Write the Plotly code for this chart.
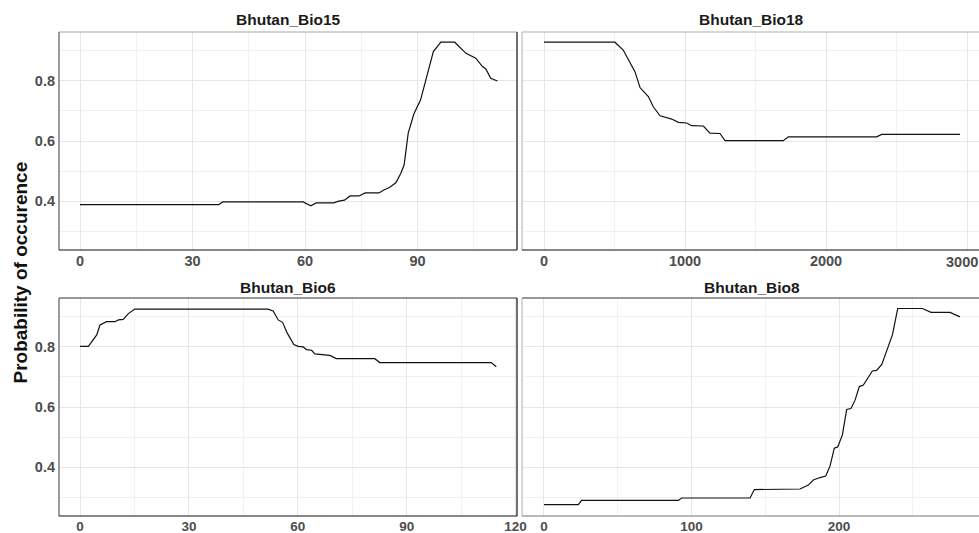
import plotly.graph_objects as go

# ---------------- data ----------------
bio15_x = [0, 37, 38, 59.5, 61.5, 63, 67.6, 69, 70.5, 72, 74.4, 76, 79.7, 81, 82.5, 84.2,
           85.5, 86.4, 87.5, 89, 90.8, 93, 94.2, 96.2, 99.9, 102.9, 105.5, 107.3, 108.2,
           109.5, 111.3]
bio15_y = [0.388, 0.388, 0.397, 0.397, 0.384, 0.394, 0.394, 0.400, 0.403, 0.417, 0.417,
           0.427, 0.427, 0.437, 0.445, 0.461, 0.492, 0.52, 0.626, 0.69, 0.737, 0.837,
           0.898, 0.929, 0.929, 0.892, 0.876, 0.848, 0.84, 0.809, 0.80]

bio18_x = [0, 503, 562, 598, 645, 681, 740, 775, 823, 906, 953, 1012, 1047, 1130, 1177,
           1248, 1284, 1697, 1733, 2359, 2395, 2950]
bio18_y = [0.929, 0.929, 0.903, 0.87, 0.831, 0.778, 0.748, 0.714, 0.684, 0.673, 0.662,
           0.66, 0.651, 0.65, 0.626, 0.625, 0.601, 0.601, 0.614, 0.614, 0.622, 0.622]

bio6_x = [0, 2.3, 4.6, 5.5, 7.3, 9.6, 10.6, 11.9, 13.3, 15.1, 51.8, 53.2, 54.6, 55.8, 57.1,
          58.9, 60.1, 61.5, 62.4, 63.8, 64.7, 67, 68.8, 70.6, 81.2, 82.6, 113.3, 114.7]
bio6_y = [0.802, 0.802, 0.84, 0.873, 0.884, 0.884, 0.89, 0.892, 0.911, 0.926, 0.926, 0.92,
          0.89, 0.882, 0.846, 0.808, 0.802, 0.80, 0.791, 0.789, 0.777, 0.775, 0.772, 0.761,
          0.761, 0.748, 0.748, 0.734]

bio8_x = [0, 23.3, 25.5, 91, 93.3, 139.7, 142.6, 153.2, 154.4, 173.6, 179.2, 182.6, 187.1,
          191, 193.9, 196.8, 199.1, 202.3, 205.2, 208.1, 210.8, 213.8, 216.5, 222.6, 225.5,
          229, 233.4, 236.2, 239.8, 256.5, 262.4, 275.3, 282]
bio8_y = [0.275, 0.275, 0.289, 0.289, 0.297, 0.297, 0.325, 0.325, 0.327, 0.327, 0.34,
          0.357, 0.365, 0.37, 0.403, 0.463, 0.467, 0.507, 0.592, 0.595, 0.622, 0.668,
          0.673, 0.72, 0.722, 0.742, 0.802, 0.84, 0.928, 0.928, 0.915, 0.915, 0.90]

panel_titles = ["Bhutan_Bio15", "Bhutan_Bio18", "Bhutan_Bio6", "Bhutan_Bio8"]
y_title = "Probability of occurence"
y_ticks = [0.4, 0.6, 0.8]
bio18_ticks = [0, 1000, 2000]
bio18_last_tick = "3000"

# ---------------- layout geometry ----------------
W, H = 979, 533
def px_x(p): return p / W
def px_y(p): return 1 - p / H

left_dom = [px_x(59), px_x(517)]
right_dom = [px_x(522), 1.0]
top_dom = [px_y(250), px_y(32)]
bot_dom = [px_y(516), px_y(298)]

series = [(bio15_x, bio15_y), (bio18_x, bio18_y), (bio6_x, bio6_y), (bio8_x, bio8_y)]
xranges = [[-5.6, 116.5], [-156, 3085], [-5.8, 120.4], [-14.9, 294.9]]
xdticks = [30, 1000, 30, 100]
xdoms = [left_dom, right_dom, left_dom, right_dom]
ydoms = [top_dom, top_dom, bot_dom, bot_dom]

fig = go.Figure()
tickfont = dict(family="Liberation Sans", size=14.5, color="#4D4D4D", weight="bold")
tickfont_bottom = dict(family="Liberation Sans", size=13.5, color="#4D4D4D", weight="bold")
grid_major = "#E6E6E6"
grid_minor = "#F1F1F1"

for i, (xs, ys) in enumerate(series):
    n = "" if i == 0 else str(i + 1)
    fig.add_trace(go.Scatter(x=xs, y=ys, mode="lines",
                             line=dict(color="#111111", width=1.2),
                             xaxis="x" + n, yaxis="y" + n, showlegend=False,
                             hoverinfo="skip"))
    xa = dict(
        domain=xdoms[i], anchor="y" + n, range=xranges[i], dtick=xdticks[i], tick0=0,
        showgrid=True, gridcolor=grid_major, gridwidth=1, zeroline=False,
        ticks="", tickfont=(tickfont if i < 2 else tickfont_bottom), showline=False,
        automargin=False,
        minor=dict(dtick=xdticks[i] / 2, tick0=0, showgrid=True, gridcolor=grid_minor,
                   gridwidth=1, ticks=""),
    )
    if i == 1:
        xa["tickvals"] = bio18_ticks + [3000]
        xa["ticktext"] = [str(v) for v in bio18_ticks] + [""]
    fig.layout["xaxis" + n] = xa
    fig.layout["yaxis" + n] = dict(
        domain=ydoms[i], anchor="x" + n, range=[0.237, 0.963], tickvals=y_ticks,
        showgrid=True, gridcolor=grid_major, gridwidth=1, zeroline=False,
        ticks="", tickfont=tickfont, showticklabels=(i % 2 == 0), showline=False,
        automargin=False, ticklabelstandoff=3,
        minor=dict(tickvals=[0.3, 0.5, 0.7, 0.9], showgrid=True, gridcolor=grid_minor,
                   gridwidth=1, ticks=""),
    )

# the last Bio18 tick label sits at the right edge (cut in the reference)
fig.add_annotation(text=bio18_last_tick, x=1.0, xref="paper", y=px_y(262), yref="paper",
                   showarrow=False, xanchor="right", yanchor="middle", font=tickfont,
                   xshift=1)

# panel borders
def seg(x0, y0, x1, y1, color, w=1.2):
    fig.add_shape(type="line", xref="paper", yref="paper", x0=x0, y0=y0, x1=x1, y1=y1,
                  line=dict(color=color, width=w), layer="above")

L0, L1 = left_dom
R0, R1 = right_dom
T0, T1 = top_dom
B0, B1 = bot_dom
# top-left
seg(L0, T1, L1, T1, "#A8A8A8")
seg(L0, T0, L0, T1, "#5A5A5A")
seg(L1, T0, L1, T1, "#111111")
seg(L0, T0, L1, T0, "#111111")
# top-right
seg(R0, T1, R1, T1, "#B0B0B0")
seg(R0, T0, R0, T1, "#BDBDBD")
seg(R0, T0, R1, T0, "#111111")
# bottom-left
seg(L0, B1, L1, B1, "#333333")
seg(L0, B0, L0, B1, "#5A5A5A")
seg(L1, B0, L1, B1, "#111111")
seg(L0, B0, L1, B0, "#111111")
# bottom-right
seg(R0, B1, R1, B1, "#333333")
seg(R0, B0, R0, B1, "#BDBDBD")
seg(R0, B0, R1, B0, "#777777")

# strip titles
strip_font = dict(family="Liberation Sans", size=15.5, color="#1A1A1A", weight="bold")
title_pos = [((L0 + L1) / 2, px_y(20)), ((R0 + px_x(981)) / 2, px_y(20)),
             ((L0 + L1) / 2, px_y(287)), ((R0 + px_x(981)) / 2, px_y(287))]
for t, (x, y) in zip(panel_titles, title_pos):
    fig.add_annotation(text=t, x=x, y=y, xref="paper", yref="paper", showarrow=False,
                       font=strip_font, xanchor="center", yanchor="middle")

fig.add_annotation(text=y_title, x=px_x(19.5), y=px_y(273), xref="paper", yref="paper",
                   showarrow=False, textangle=-90, xanchor="center", yanchor="middle",
                   font=dict(family="Liberation Sans", size=19, color="#111111",
                             weight="bold"))

fig.update_layout(width=W, height=H, margin=dict(l=0, r=0, t=0, b=0),
                  paper_bgcolor="white", plot_bgcolor="white")

fig.write_html(
    "out.html",
    config={"displayModeBar": False},
    post_script="document.body.style.margin='0';document.body.style.overflow='hidden';"
                "document.documentElement.style.overflow='hidden';",
)
